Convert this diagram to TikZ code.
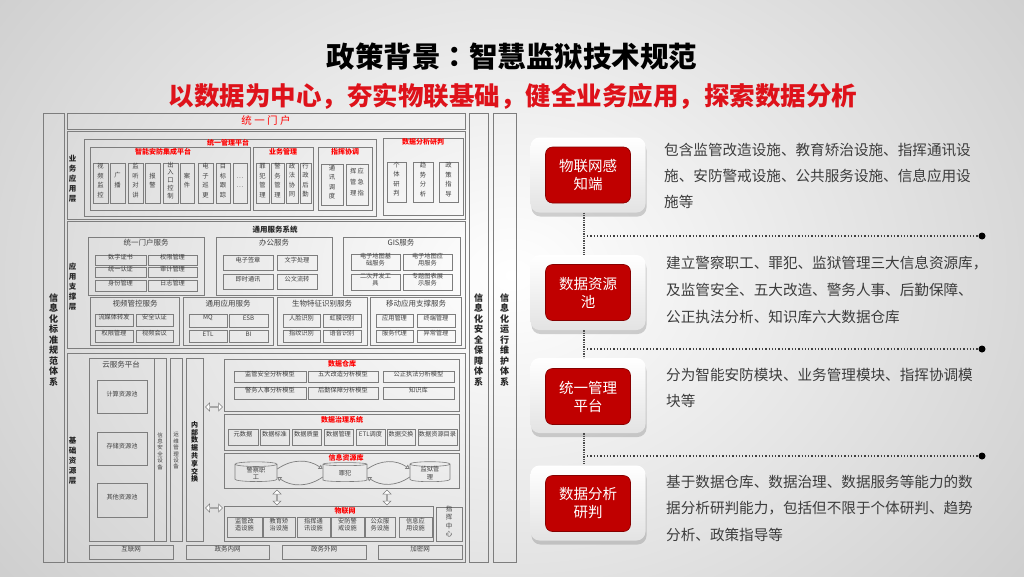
\documentclass[tikz,border=0pt]{standalone}
\usepackage{fontspec}
\setmainfont{Noto Sans CJK SC}
\newfontfamily\cjktc{Noto Sans CJK TC}
\usetikzlibrary{fit,shapes.geometric,shapes.arrows,shadows,arrows.meta}
\definecolor{tred}{RGB}{222,18,26}
\definecolor{dred}{RGB}{192,0,0}
\definecolor{lred}{RGB}{255,0,0}
\definecolor{bord}{RGB}{125,125,125}
\definecolor{txt}{RGB}{60,60,60}
\newcommand\bx[7][]{\node[bxs,#1,fit={(#3,#4) (#5,#6)}] (#2) {#7};}
\tikzset{
 bxs/.style={draw=bord, line width=0.6pt, inner sep=0pt, align=center, font=\fontsize{6.2}{7.2}\selectfont, text=black!75},
 vt/.style={font=\fontsize{6.3}{9.5}\selectfont},
 vtt/.style={font=\fontsize{6.3}{7.8}\selectfont},
 rtit/.style={text=lred, font=\fontsize{7}{8}\selectfont\bfseries, inner sep=0pt},
 gtit/.style={text=black!75, font=\fontsize{7.5}{9}\selectfont, inner sep=0pt},
 lay/.style={font=\fontsize{7.5}{10}\selectfont\bfseries, align=center, inner sep=0pt, text=black!85},
 colt/.style={font=\fontsize{9}{10.5}\selectfont\bfseries, align=center, inner sep=0pt, text=black!85},
 darr/.style={double arrow, draw=bord, fill=white, line width=0.5pt, inner sep=0pt, minimum height=17pt, minimum width=8pt, double arrow head extend=1.2pt},
 cyl/.style={cylinder, shape border rotate=90, aspect=0.25, draw=bord, line width=0.6pt, minimum width=42pt, minimum height=19pt, inner sep=0pt, align=center, font=\fontsize{6.2}{7.2}\selectfont, text=black!75},
 carr/.style={draw=bord, line width=0.7pt, -{Triangle[open, length=4pt, width=5pt]}},
 outbox/.style={rounded corners=9pt, top color=white, bottom color=gray!22, drop shadow={shadow xshift=1pt, shadow yshift=-4pt, opacity=0.35}, minimum width=115pt, minimum height=75pt},
 inbox/.style={rounded corners=7pt, fill=dred, draw=dred!70!black, line width=0.6pt, minimum width=85pt, minimum height=56pt, text=white, align=center, font=\fontsize{14.5}{18}\selectfont},
 para/.style={anchor=west, inner sep=0pt, text=txt, font=\fontsize{14.6}{16}\selectfont},
 vdot/.style={densely dotted, line width=1.3pt, draw=black!70},
 hdot/.style={dotted, line width=1.3pt, draw=black!75},
 endot/.style={circle, fill=black, inner sep=0pt, minimum size=7pt},
}
\begin{document}
\begin{tikzpicture}[x=1pt,y=-1pt]
\useasboundingbox (0,0) rectangle (1024,576);
\begin{scope}
\clip (0,0) rectangle (1024,576);
\shade[inner color=white, outer color=gray!40] (-160,-260) rectangle (1184,810);
\end{scope}
% titles
\node[font=\fontsize{28.5}{30}\selectfont\bfseries, text=black] (title) at (512,57) {政策背景{\cjktc ：}智慧监狱技术规范};
\node[font=\fontsize{25.5}{28}\selectfont\bfseries, text=tred] (sub) at (513,96) {以数据为中心，夯实物联基础，健全业务应用，探索数据分析};
% side columns
\bx{colL}{43}{113}{64}{562}{}
\node[colt] (colLt) at (53.5,340) {信\\息\\化\\标\\准\\规\\范\\体\\系};
\bx{colS}{469}{113}{488}{562}{}
\node[colt] (colSt) at (478.5,340) {信\\息\\化\\安\\全\\保\\障\\体\\系};
\bx{colO}{493}{113}{516}{562}{}
\node[colt] (colOt) at (504.5,340) {信\\息\\化\\运\\行\\维\\护\\体\\系};
\bx{portal}{67}{113}{465}{129}{}
\node[font=\fontsize{10.5}{12}\selectfont, text=lred, inner sep=0pt] (portalt) at (266,121) {统 一 门 户};
% ===== business application layer
\bx{layA}{67}{131}{465}{219}{}
\node[lay] (layAt) at (72.5,179) {业\\务\\应\\用\\层};
\bx{umgmt}{84}{139}{376}{216}{}
\node[rtit] (umgmtt) at (228,143) {统一管理平台};
\bx{afpt}{90}{147}{250}{210}{}
\node[rtit] (afptt) at (163,152) {智能安防集成平台};
\bx[vt]{a1}{93}{163}{108}{203}{视\\频\\监\\控}
\bx[vt]{a2}{110}{163}{125}{203}{广\\播}
\bx[vt]{a3}{128}{163}{143}{203}{监\\听\\对\\讲}
\bx[vt]{a4}{145}{163}{160}{203}{报\\警}
\bx[vtt]{a5}{163}{163}{178}{203}{出\\入\\口\\控\\制}
\bx[vt]{a6}{180}{163}{194}{203}{案\\件}
\bx[vt]{a7}{198}{163}{213}{203}{电\\子\\巡\\更}
\bx[vt]{a8}{216}{163}{230}{203}{目\\标\\跟\\踪}
\bx[vt]{a9}{233}{163}{247}{203}{…\\…}
\bx{ywgl}{253}{147}{313}{210}{}
\node[rtit] (ywglt) at (283,152) {业务管理};
\bx[vt]{b1}{256}{163}{269}{203}{罪\\犯\\管\\理}
\bx[vt]{b2}{271}{163}{284}{203}{警\\务\\管\\理}
\bx[vt]{b3}{286}{163}{298}{203}{政\\法\\协\\同}
\bx[vt]{b4}{300}{163}{311}{203}{行\\政\\后\\勤}
\bx{zhxt}{318}{147}{372}{210}{}
\node[rtit] (zhxtt) at (345,152) {指挥协调};
\bx[vt]{c1}{321}{164}{343}{205}{通\\讯\\调\\度}
\bx[font=\fontsize{6.3}{11}\selectfont]{c2}{346}{164}{368}{205}{挥\,应\\管\,急\\理\,指}
\bx{sjfx}{383}{138}{463}{215}{}
\node[rtit] (sjfxt) at (423,142) {数据分析研判};
\bx[vt]{d1}{387}{162}{406}{202}{个\\体\\研\\判}
\bx[vt]{d2}{413}{162}{433}{202}{趋\\势\\分\\析}
\bx[vt]{d3}{439}{162}{458}{202}{政\\策\\指\\导}
% ===== support layer
\bx{layB}{67}{221}{465}{348}{}
\node[lay] (layBt) at (72.5,287) {应\\用\\支\\撑\\层};
\node[font=\fontsize{7.5}{9}\selectfont\bfseries, text=black!85, inner sep=0pt] (tyfw) at (275,230) {通用服务系统};
\bx{g1}{88}{237}{204}{295}{}
\node[gtit] (g1t) at (146,243) {统一门户服务};
\bx{g1a}{95}{255}{146}{265}{数字证书}
\bx{g1b}{148}{255}{197}{265}{权限管理}
\bx{g1c}{95}{267}{146}{277}{统一认证}
\bx{g1d}{148}{267}{197}{277}{审计管理}
\bx{g1e}{95}{280}{146}{291}{身份管理}
\bx{g1f}{148}{280}{197}{291}{日志管理}
\bx{g2}{216}{237}{332}{295}{}
\node[gtit] (g2t) at (274,243) {办公服务};
\bx{g2a}{223}{255}{273}{270}{电子签章}
\bx{g2b}{277}{255}{317}{270}{文字处理}
\bx{g2c}{223}{274}{273}{289}{即时通讯}
\bx{g2d}{277}{274}{317}{289}{公文流转}
\bx{g3}{343}{237}{460}{295}{}
\node[gtit] (g3t) at (401,243) {GIS服务};
\bx{g3a}{351}{254}{400}{270}{电子地图基\\础服务}
\bx{g3b}{403}{254}{452}{270}{电子地图应\\用服务}
\bx{g3c}{351}{274}{400}{290}{二次开发工\\具}
\bx{g3d}{403}{274}{452}{290}{专题图表展\\示服务}
\bx{g4}{90}{297}{179}{345}{}
\node[gtit] (g4t) at (135,304) {视频管控服务};
\bx{g4a}{95}{314}{133}{326}{流媒体转发}
\bx{g4b}{136}{314}{173}{326}{安全认证}
\bx{g4c}{95}{330}{133}{342}{权限管理}
\bx{g4d}{136}{330}{173}{342}{视频会议}
\bx{g5}{183}{297}{273}{345}{}
\node[gtit] (g5t) at (228,304) {通用应用服务};
\bx{g5a}{189}{314}{227}{327}{MQ}
\bx{g5b}{229}{314}{268}{327}{ESB}
\bx{g5c}{189}{330}{227}{342}{ETL}
\bx{g5d}{229}{330}{268}{342}{BI}
\bx{g6}{277}{297}{367}{345}{}
\node[gtit] (g6t) at (322,304) {生物特征识别服务};
\bx{g6a}{283}{314}{320}{327}{人脸识别}
\bx{g6b}{323}{314}{361}{327}{虹膜识别}
\bx{g6c}{283}{330}{320}{342}{指纹识别}
\bx{g6d}{323}{330}{361}{342}{语音识别}
\bx{g7}{370}{297}{461}{345}{}
\node[gtit] (g7t) at (416,304) {移动应用支撑服务};
\bx{g7a}{376}{314}{413}{327}{应用管理}
\bx{g7b}{417}{314}{455}{327}{终端管理}
\bx{g7c}{376}{330}{413}{342}{服务代理}
\bx{g7d}{417}{330}{455}{342}{异常管理}
% ===== base resource layer
\bx{layC}{67}{353}{465}{562}{}
\node[lay] (layCt) at (72.5,461) {基\\础\\资\\源\\层};
\bx{cloud}{89}{358}{154}{541}{}
\node[gtit] (cloudt) at (121,365) {云服务平台};
\bx{cl1}{97}{380}{147}{413}{计算资源池}
\bx{cl2}{97}{432}{147}{465}{存储资源池}
\bx{cl3}{97}{483}{147}{517}{其他资源池}
\bx{sec}{154}{358}{166}{541}{}
\node[font=\fontsize{5.5}{6.4}\selectfont, align=center, text=black!75, inner sep=0pt] (sect) at (160,451) {信\\息\\安\\全\\设\\备};
\bx{ops}{170}{358}{182}{541}{}
\node[font=\fontsize{5.5}{6.4}\selectfont, align=center, text=black!75, inner sep=0pt] (opst) at (176,451) {运\\维\\管\\理\\设\\备};
\bx{xchg}{186}{358}{203}{541}{}
\node[font=\fontsize{7}{7.8}\selectfont\bfseries, align=center, text=black!90, inner sep=0pt] (xchgt) at (194.5,452) {内\\部\\数\\据\\共\\享\\交\\换};
\node[darr] (da1) at (214,407) {};
\node[darr] (da2) at (214,508) {};
% data warehouse
\bx{dw}{224}{359}{459}{411}{}
\node[rtit] (dwt) at (342,364) {数据仓库};
\bx{dw1}{234}{371}{306}{382}{监管安全分析模型}
\bx{dw2}{308}{371}{378}{382}{五大改造分析模型}
\bx{dw3}{383}{371}{454}{382}{公正执法分析模型}
\bx{dw4}{234}{387}{306}{399}{警务人事分析模型}
\bx{dw5}{308}{387}{378}{399}{后勤保障分析模型}
\bx{dw6}{383}{387}{454}{399}{知识库}
% governance
\bx{gov}{224}{414}{459}{450}{}
\node[rtit] (govt) at (342,420) {数据治理系统};
\bx{gv1}{228}{429}{258}{445}{元数据}
\bx{gv2}{260}{429}{289}{445}{数据标准}
\bx{gv3}{292}{429}{321}{445}{数据质量}
\bx{gv4}{324}{429}{353}{445}{数据管理}
\bx{gv5}{356}{429}{385}{445}{ETL调度}
\bx{gv6}{387}{429}{415}{445}{数据交换}
\bx{gv7}{418}{429}{457}{445}{数据资源目录}
% info resource
\bx{irl}{224}{453}{459}{488}{}
\node[rtit] (irlt) at (346,458) {信息资源库};
\node[cyl] (cy1) at (256,473) {警察职\\工};
\node[cyl, minimum width=44pt] (cy2) at (345,473) {罪犯};
\node[cyl, minimum width=40pt] (cy3) at (430,473) {监狱管\\理};
\draw[carr] ([yshift=4pt]cy1.east) to[bend left=35] ([yshift=4pt]cy2.west);
\draw[carr] ([yshift=-4pt]cy2.west) to[bend left=35] ([yshift=-4pt]cy1.east);
\draw[carr] ([yshift=4pt]cy2.east) to[bend left=35] ([yshift=4pt]cy3.west);
\draw[carr] ([yshift=-4pt]cy3.west) to[bend left=35] ([yshift=-4pt]cy2.east);
\node[darr, minimum height=15pt, rotate=90] (da3) at (277,497.5) {};
\node[darr, minimum height=15pt, rotate=90] (da4) at (387,497.5) {};
% IoT
\bx{iot}{224}{506}{433}{541}{}
\node[rtit] (iott) at (345,511) {物联网};
\bx{io1}{227}{517}{262}{537}{监管改\\造设施}
\bx{io2}{263}{517}{295}{537}{教育矫\\治设施}
\bx{io3}{297}{517}{330}{537}{指挥通\\讯设施}
\bx{io4}{331}{517}{364}{537}{安防警\\戒设施}
\bx{io5}{365}{517}{395}{537}{公众服\\务设施}
\bx{io6}{399}{517}{432}{537}{信息应\\用设施}
\bx[font=\fontsize{6.5}{8.5}\selectfont]{cmd}{436}{507}{462}{541}{指\\挥\\中\\心}
% networks
\bx[font=\fontsize{6.5}{7.5}\selectfont]{n1}{89}{545}{173}{559}{互联网}
\bx[font=\fontsize{6.5}{7.5}\selectfont]{n2}{186}{545}{269}{559}{政务内网}
\bx[font=\fontsize{6.5}{7.5}\selectfont]{n3}{282}{545}{366}{559}{政务外网}
\bx[font=\fontsize{6.5}{7.5}\selectfont]{n4}{378}{545}{462}{559}{加密网}
% ===== right panel
\node[outbox] (o1) at (588,175) {};
\node[inbox] (r1) at (588,175) {物联网感\\知端};
\node[outbox] (o2) at (588,292.5) {};
\node[inbox] (r2) at (588,292.5) {数据资源\\池};
\node[outbox] (o3) at (588,395.5) {};
\node[inbox] (r3) at (588,396.5) {统一管理\\平台};
\node[outbox] (o4) at (588,503) {};
\node[inbox] (r4) at (588,503.5) {数据分析\\研判};
\draw[vdot] ([xshift=-4pt]o1.south) -- ([xshift=-4pt]o2.north);
\draw[vdot] ([xshift=-4pt]o2.south) -- ([xshift=-4pt]o3.north);
\draw[vdot] ([xshift=-4pt]o3.south) -- ([xshift=-4pt]o4.north);
\coordinate (h1) at (587,236);
\coordinate (h2) at (587,349);
\coordinate (h3) at (587,456);
\node[endot] (e1) at (982,236) {};
\node[endot] (e2) at (982,349) {};
\node[endot] (e3) at (982,456) {};
\draw[hdot] (h1) -- (e1);
\draw[hdot] (h2) -- (e2);
\draw[hdot] (h3) -- (e3);
\node[para] (p11) at (664,150) {包含监管改造设施、教育矫治设施、指挥通讯设};
\node[para] (p12) at (664,176) {施、安防警戒设施、公共服务设施、信息应用设};
\node[para] (p13) at (664,202) {施等};
\node[para] (p21) at (666,263) {建立警察职工、罪犯、监狱管理三大信息资源库，};
\node[para] (p22) at (666,290) {及监管安全、五大改造、警务人事、后勤保障、};
\node[para] (p23) at (666,317) {公正执法分析、知识库六大数据仓库};
\node[para] (p31) at (666,375) {分为智能安防模块、业务管理模块、指挥协调模};
\node[para] (p32) at (666,401) {块等};
\node[para] (p41) at (666,482) {基于数据仓库、数据治理、数据服务等能力的数};
\node[para] (p42) at (666,508) {据分析研判能力，包括但不限于个体研判、趋势};
\node[para] (p43) at (666,535) {分析、政策指导等};
\end{tikzpicture}
\end{document}
